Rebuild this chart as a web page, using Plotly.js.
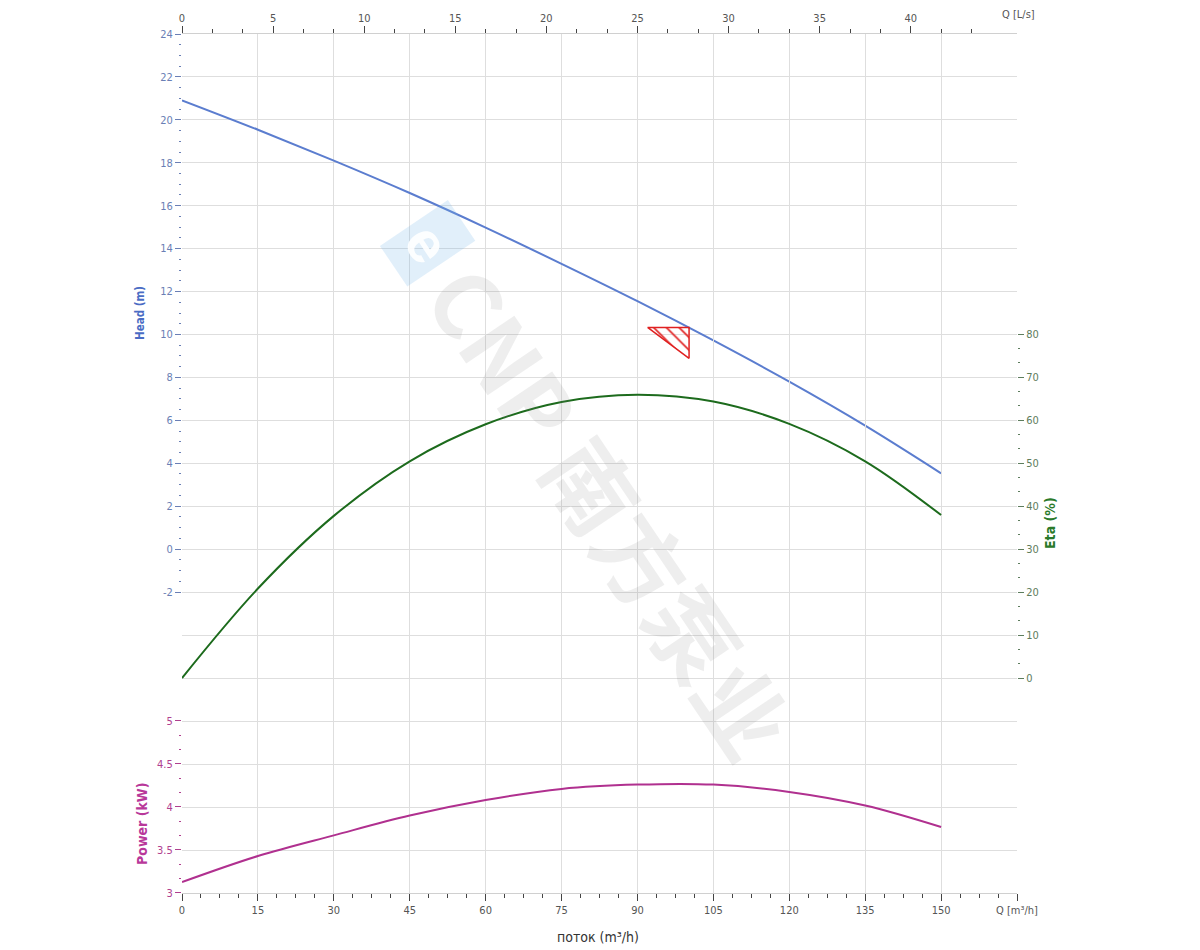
<!DOCTYPE html>
<html>
<head>
<meta charset="utf-8">
<script src="https://cdn.plot.ly/plotly-3.0.1.min.js"></script>
<style>html,body{margin:0;padding:0;background:#fff;}</style>
</head>
<body>
<div id="chart" style="width:1200px;height:950px;"></div>
<script>
// ---- data ----
const flowQ   = [0, 15, 30, 45, 60, 75, 90, 105, 120, 135, 150];            // m³/h
const headM   = [20.91, 19.54, 18.10, 16.59, 14.98, 13.29, 11.55, 9.72, 7.80, 5.75, 3.53];
const etaPct  = [0, 20.8, 37.7, 50.4, 59.0, 64.2, 65.9, 64.3, 59.1, 50.4, 37.9];
const powerKW = [3.127, 3.43, 3.67, 3.90, 4.08, 4.21, 4.26, 4.26, 4.175, 4.017, 3.767];

// duty point (required Q / H)
const dutyQ = [100.2];
const dutyH = [10.33];

// tick labels
const qTickVals   = [0, 15, 30, 45, 60, 75, 90, 105, 120, 135, 150, 165];
const qTickText   = ['0','15','30','45','60','75','90','105','120','135','150','Q [m³/h]'];
const lsTickVals  = [0, 5, 10, 15, 20, 25, 30, 35, 40];
const headTicks   = [-2, 0, 2, 4, 6, 8, 10, 12, 14, 16, 18, 20, 22, 24];
const headText    = ['-2','0','2','4','6','8','10','12','14','16','18','20','22','24'];
const etaTicks    = [0, 10, 20, 30, 40, 50, 60, 70, 80];
const powerTicks  = [3, 3.5, 4, 4.5, 5];
const powerText   = ['3','3.5','4','4.5','5'];

// ---- styling ----
const FONT = '"Liberation Sans Narrow", "DejaVu Sans Condensed", "Liberation Sans", Arial, sans-serif';
const GRID = '#dedede';
const HEAD_C = '#5b7dcf', ETA_C = '#1d6b1d', POW_C = '#b0308f';
const QMAX = 165;
const LS_PER_M3H = 1 / 3.6;

// triangle symbol size (data units)
const triW = 8.2, triH = 1.44;
const triX = [dutyQ[0] - triW, dutyQ[0], dutyQ[0], dutyQ[0] - triW];
const triY = [dutyH[0], dutyH[0], dutyH[0] - triH, dutyH[0]];

const lsMinor = [];
for (let v = 5/3; v < 44; v += 5/3) { if (Math.abs(v/5 - Math.round(v/5)) > 1e-6) lsMinor.push(v); }

const traces = [
  {x: [], y: [], xaxis: 'x', yaxis: 'y', type: 'scatter', hoverinfo: 'skip', showlegend: false},
  {x: [], y: [], xaxis: 'x2', yaxis: 'y', type: 'scatter', hoverinfo: 'skip', showlegend: false},
  {x: flowQ, y: headM, xaxis: 'x', yaxis: 'y2', type: 'scatter', mode: 'lines',
   line: {color: HEAD_C, width: 2, shape: 'spline'}, name: 'Head'},
  {x: flowQ, y: etaPct, xaxis: 'x', yaxis: 'y3', type: 'scatter', mode: 'lines',
   line: {color: ETA_C, width: 2, shape: 'spline'}, name: 'Eta'},
  {x: flowQ, y: powerKW, xaxis: 'x', yaxis: 'y4', type: 'scatter', mode: 'lines',
   line: {color: POW_C, width: 2, shape: 'spline'}, name: 'Power'},
  {x: triX, y: triY, xaxis: 'x', yaxis: 'y2', type: 'scatter', mode: 'lines',
   fill: 'toself', fillcolor: 'rgba(0,0,0,0)',
   fillpattern: {shape: '\\', size: 9, solidity: 0.18, fgcolor: '#e02020', bgcolor: 'rgba(0,0,0,0)'},
   line: {color: '#e02020', width: 1.5}, name: 'Duty point'}
];

const tickFont = (c) => ({family: FONT, size: 11, color: c});

const layout = {
  width: 1200, height: 950,
  margin: {l: 182, r: 183, t: 34, b: 57},
  paper_bgcolor: '#ffffff', plot_bgcolor: 'rgba(0,0,0,0)',
  showlegend: false,
  font: {family: FONT, size: 11, color: '#555'},
  xaxis: {
    domain: [0, 1], range: [0, QMAX], anchor: 'y',
    tickmode: 'array', tickvals: qTickVals, ticktext: qTickText,
    ticks: 'outside', ticklen: 7, tickcolor: '#444', tickwidth: 1,
    minor: {tickmode: 'linear', tick0: 0, dtick: 3.75, ticks: 'outside', ticklen: 4, tickcolor: '#444', showgrid: false},
    showgrid: true, gridcolor: GRID, gridwidth: 1,
    showline: true, linecolor: '#d0d0d0', zeroline: false,
    tickfont: tickFont('#555')
  },
  xaxis2: {
    overlaying: 'x', side: 'top', anchor: 'y', range: [0, QMAX * LS_PER_M3H],
    tickmode: 'array', tickvals: lsTickVals,
    ticks: 'outside', ticklen: 7, tickcolor: '#444',
    minor: {tickmode: 'array', tickvals: lsMinor, ticks: 'outside', ticklen: 4, tickcolor: '#444', showgrid: false},
    showgrid: false, showline: true, linecolor: '#d0d0d0', zeroline: false,
    tickfont: tickFont('#555')
  },
  yaxis: {
    domain: [0, 1], range: [-16, 24], anchor: 'x',
    tickmode: 'linear', tick0: 0, dtick: 2,
    showgrid: true, gridcolor: GRID, gridwidth: 1,
    showticklabels: false, ticks: '', showline: false, zeroline: false
  },
  yaxis2: {
    domain: [(893 - 592) / 859, 1], range: [-2, 24], anchor: 'x', side: 'left',
    tickmode: 'array', tickvals: headTicks, ticktext: headText,
    ticks: 'outside', ticklen: 6, tickcolor: '#6a7fb5',
    minor: {tickmode: 'linear', tick0: 0, dtick: 0.5, ticks: 'outside', ticklen: 2, tickcolor: '#6a7fb5', showgrid: false},
    showgrid: false, showline: false, zeroline: false,
    tickfont: tickFont('#6a7fb5')
  },
  yaxis3: {
    domain: [(893 - 680.15) / 859, (893 - 331.85) / 859], range: [-0.5, 80.5], anchor: 'x', side: 'right',
    tickmode: 'array', tickvals: etaTicks,
    ticks: 'outside', ticklen: 6, tickcolor: '#5d7d5d',
    minor: {tickmode: 'linear', tick0: 0, dtick: 10/3, ticks: 'outside', ticklen: 2, tickcolor: '#5d7d5d', showgrid: false},
    showgrid: false, showline: false, zeroline: false,
    tickfont: tickFont('#5d7d5d')
  },
  yaxis4: {
    domain: [0, 0.2053], range: [3, 5.05], anchor: 'x', side: 'left',
    tickmode: 'array', tickvals: powerTicks, ticktext: powerText,
    ticks: 'outside', ticklen: 6, tickcolor: '#b0408f',
    minor: {tickmode: 'linear', tick0: 3, dtick: 1/6, ticks: 'outside', ticklen: 2, tickcolor: '#b0408f', showgrid: false},
    showgrid: false, showline: false, zeroline: false,
    tickfont: tickFont('#b0408f')
  },
  annotations: [
    {xref: 'paper', yref: 'paper', x: (612 - 182) / 835, y: (893 - 510) / 859, text: 'CNP 南方泵业',
     showarrow: false, textangle: 56, xanchor: 'center', yanchor: 'middle',
     font: {family: '"Noto Sans CJK SC", "Liberation Sans", sans-serif', size: 90, color: 'rgba(120,120,120,0.13)', weight: 'bold'}},
    {xref: 'paper', yref: 'paper', x: (428 - 182) / 835, y: (893 - 243) / 859, text: 'e',
     showarrow: false, textangle: 56, xanchor: 'center', yanchor: 'middle',
     bgcolor: 'rgba(120,180,230,0.22)', borderpad: 8,
     font: {family: '"Liberation Sans", sans-serif', size: 58, color: 'rgba(255,255,255,0.9)', weight: 'bold'}},
    {xref: 'paper', yref: 'paper', x: (140 - 182) / 835, y: (893 - 313) / 859, text: '<b>Head (m)</b>',
     showarrow: false, textangle: -90, xanchor: 'center', yanchor: 'middle',
     font: {family: FONT, size: 11.5, color: '#4a6cc4'}},
    {xref: 'paper', yref: 'paper', x: (142 - 182) / 835, y: (893 - 824) / 859, text: '<b>Power (kW)</b>',
     showarrow: false, textangle: -90, xanchor: 'center', yanchor: 'middle',
     font: {family: FONT, size: 14, color: '#b8389a'}},
    {xref: 'paper', yref: 'paper', x: (1050 - 182) / 835, y: (893 - 523) / 859, text: '<b>Eta (%)</b>',
     showarrow: false, textangle: -90, xanchor: 'center', yanchor: 'middle',
     font: {family: FONT, size: 14, color: '#2a7a2a'}},
    {xref: 'paper', yref: 'paper', x: (598 - 182) / 835, y: (893 - 937) / 859, text: 'поток (m³/h)',
     showarrow: false, xanchor: 'center', yanchor: 'middle',
     font: {family: FONT, size: 14, color: '#333'}},
    {xref: 'paper', yref: 'paper', x: (1018 - 182) / 835, y: (893 - 15) / 859, text: 'Q [L/s]',
     showarrow: false, xanchor: 'center', yanchor: 'middle',
     font: {family: FONT, size: 11, color: '#555'}}
  ]
};

Plotly.newPlot('chart', traces, layout, {displayModeBar: false, staticPlot: true});
</script>
</body>
</html>
